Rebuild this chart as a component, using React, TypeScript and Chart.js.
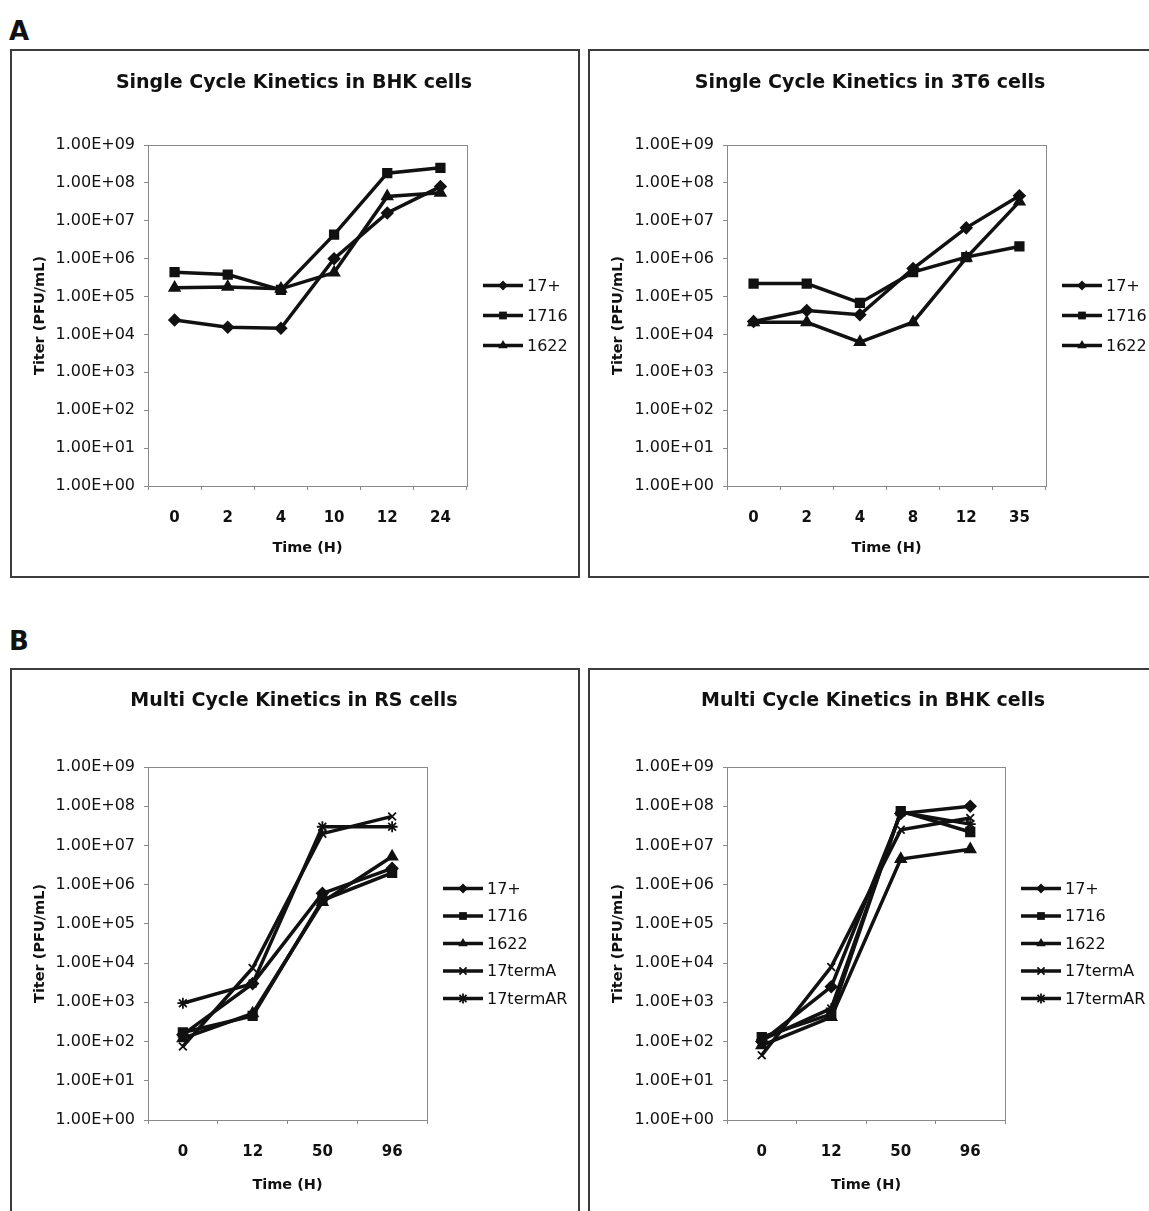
import React, { useEffect, useRef } from "react";
import { Chart, registerables } from "chart.js";

Chart.register(...registerables);

const FONT = "'DejaVu Sans', Verdana, sans-serif";

// ---------- data ----------
const seriesNames = ["17+", "1716", "1622", "17termA", "17termAR"];
const pointStyles = ["rectRot", "rect", "triangle", "crossRot", "star"];
const pointRadii = [5.5, 6, 6, 5.5, 5.5];

const yTickPowers = [0, 1, 2, 3, 4, 5, 6, 7, 8, 9];

// Panel A, left: Single Cycle Kinetics in BHK cells
const singleBhkTimes = ["0", "2", "4", "10", "12", "24"];
const singleBhk17 = [2.4e4, 1.55e4, 1.45e4, 1.0e6, 1.6e7, 8.0e7];
const singleBhk1716 = [4.4e5, 3.8e5, 1.5e5, 4.3e6, 1.8e8, 2.5e8];
const singleBhk1622 = [1.7e5, 1.8e5, 1.6e5, 4.3e5, 4.4e7, 5.5e7];

// Panel A, right: Single Cycle Kinetics in 3T6 cells
const single3t6Times = ["0", "2", "4", "8", "12", "35"];
const single3t617 = [2.2e4, 4.3e4, 3.3e4, 5.5e5, 6.5e6, 4.6e7];
const single3t61716 = [2.2e5, 2.2e5, 6.8e4, 4.4e5, 1.1e6, 2.1e6];
const single3t61622 = [2.1e4, 2.1e4, 6.3e3, 2.1e4, 1.05e6, 3.2e7];

// Panel B, left: Multi Cycle Kinetics in RS cells
const multiRsTimes = ["0", "12", "50", "96"];
const multiRs17 = [150, 3.0e3, 6.0e5, 2.6e6];
const multiRs1716 = [170, 450, 4.0e5, 2.0e6];
const multiRs1622 = [120, 520, 3.6e5, 5.2e6];
const multiRs17termA = [75, 7.5e3, 2.0e7, 5.5e7];
const multiRs17termAR = [950, 3.0e3, 3.0e7, 3.0e7];

// Panel B, right: Multi Cycle Kinetics in BHK cells
const multiBhkTimes = ["0", "12", "50", "96"];
const multiBhk17 = [100, 2.5e3, 6.5e7, 1.0e8];
const multiBhk1716 = [130, 500, 7.5e7, 2.2e7];
const multiBhk1622 = [80, 420, 4.5e6, 8.0e6];
const multiBhk17termA = [45, 8.0e3, 2.5e7, 5.0e7];
const multiBhk17termAR = [110, 700, 7.0e7, 3.5e7];

// ---------- layout ----------
type PanelDef = {
  title: string;
  box: [number, number, number, number]; // x, y, w, h (page)
  plot: [number, number, number, number]; // left, top, right, bottom (page)
  titleY: number;
  titleX: number;
  yTitleX: number;
  xTitleY: number;
  legendGap: number;
  labels: string[];
  series: number[][];
};

const panels: PanelDef[] = [
  {
    title: "Single Cycle Kinetics in BHK cells",
    box: [10, 49, 570, 529],
    plot: [148, 145, 467, 486],
    titleX: 294,
    titleY: 83,
    yTitleX: 40,
    xTitleY: 548,
    legendGap: 30,
    labels: singleBhkTimes,
    series: [singleBhk17, singleBhk1716, singleBhk1622],
  },
  {
    title: "Single Cycle Kinetics in 3T6 cells",
    box: [588, 49, 572, 529],
    plot: [727, 145, 1046, 486],
    titleX: 870,
    titleY: 83,
    yTitleX: 618,
    xTitleY: 548,
    legendGap: 30,
    labels: single3t6Times,
    series: [single3t617, single3t61716, single3t61622],
  },
  {
    title: "Multi Cycle Kinetics in RS cells",
    box: [10, 668, 570, 560],
    plot: [148, 767, 427, 1120],
    titleX: 294,
    titleY: 701,
    yTitleX: 40,
    xTitleY: 1185,
    legendGap: 27.5,
    labels: multiRsTimes,
    series: [multiRs17, multiRs1716, multiRs1622, multiRs17termA, multiRs17termAR],
  },
  {
    title: "Multi Cycle Kinetics in BHK cells",
    box: [588, 668, 572, 560],
    plot: [727, 767, 1005, 1120],
    titleX: 873,
    titleY: 701,
    yTitleX: 618,
    xTitleY: 1185,
    legendGap: 27.5,
    labels: multiBhkTimes,
    series: [multiBhk17, multiBhk1716, multiBhk1622, multiBhk17termA, multiBhk17termAR],
  },
];

function formatTick(v: number): string {
  const p = Math.round(Math.log10(v));
  return "1.00E+" + String(p).padStart(2, "0");
}

function drawMarker(ctx: CanvasRenderingContext2D, style: string, x: number, y: number, r: number) {
  ctx.save();
  ctx.fillStyle = "#111";
  ctx.strokeStyle = "#111";
  ctx.lineWidth = 1.8;
  ctx.beginPath();
  if (style === "rectRot") {
    ctx.moveTo(x, y - r);
    ctx.lineTo(x + r, y);
    ctx.lineTo(x, y + r);
    ctx.lineTo(x - r, y);
    ctx.closePath();
    ctx.fill();
  } else if (style === "rect") {
    const s = r * Math.SQRT1_2;
    ctx.rect(x - s, y - s, 2 * s, 2 * s);
    ctx.fill();
  } else if (style === "triangle") {
    for (let k = 0; k < 3; k++) {
      const a = -Math.PI / 2 + (k * 2 * Math.PI) / 3;
      const px = x + Math.cos(a) * r;
      const py = y + Math.sin(a) * r;
      if (k === 0) ctx.moveTo(px, py);
      else ctx.lineTo(px, py);
    }
    ctx.closePath();
    ctx.fill();
  } else if (style === "crossRot") {
    const s = r * Math.SQRT1_2;
    ctx.moveTo(x - s, y - s);
    ctx.lineTo(x + s, y + s);
    ctx.moveTo(x - s, y + s);
    ctx.lineTo(x + s, y - s);
    ctx.stroke();
  } else if (style === "star") {
    const s = r * Math.SQRT1_2;
    ctx.moveTo(x - s, y - s);
    ctx.lineTo(x + s, y + s);
    ctx.moveTo(x - s, y + s);
    ctx.lineTo(x + s, y - s);
    ctx.moveTo(x, y - r);
    ctx.lineTo(x, y + r);
    ctx.moveTo(x - r, y);
    ctx.lineTo(x + r, y);
    ctx.stroke();
  }
  ctx.restore();
}

function PanelChart({ p }: { p: PanelDef }) {
  const ref = useRef<HTMLCanvasElement | null>(null);
  useEffect(() => {
    const [bx, by, bw, bh] = p.box;
    const [pl, pt, pr, pb] = p.plot;
    const left = pl - bx;
    const top = pt - by;
    const right = pr - bx;
    const bottom = pb - by;
    const axisTitleSize = 14.5;
    const titleLH = axisTitleSize * 1.2;

    const framePlugin = {
      id: "frame" + p.title,
      beforeDatasetsDraw(chart: any) {
        const { ctx, chartArea } = chart;
        ctx.save();
        ctx.strokeStyle = "#8a8a8a";
        ctx.lineWidth = 1;
        ctx.strokeRect(
          Math.round(chartArea.left) + 0.5,
          Math.round(chartArea.top) + 0.5,
          Math.round(chartArea.right - chartArea.left),
          Math.round(chartArea.bottom - chartArea.top)
        );
        ctx.restore();
      },
      afterDraw(chart: any) {
        const { ctx, chartArea } = chart;
        ctx.save();
        // title
        ctx.fillStyle = "#111";
        ctx.font = "bold 19px " + FONT;
        ctx.textAlign = "center";
        ctx.textBaseline = "middle";
        ctx.fillText(p.title, p.titleX - bx, p.titleY - by);
        // legend
        const n = p.series.length;
        const cy = (chartArea.top + chartArea.bottom) / 2;
        const x0 = chartArea.right + 16;
        ctx.font = "16px " + FONT;
        ctx.textAlign = "left";
        for (let i = 0; i < n; i++) {
          const y = cy + (i - (n - 1) / 2) * p.legendGap;
          ctx.strokeStyle = "#111";
          ctx.lineWidth = 3.5;
          ctx.beginPath();
          ctx.moveTo(x0, y);
          ctx.lineTo(x0 + 40, y);
          ctx.stroke();
          drawMarker(ctx, pointStyles[i], x0 + 20, y, pointRadii[i] - 0.5);
          ctx.fillStyle = "#111";
          ctx.fillText(seriesNames[i], x0 + 44, y + 1);
        }
        ctx.restore();
      },
    };

    const chart = new Chart(ref.current as HTMLCanvasElement, {
      type: "line",
      data: {
        labels: p.labels,
        datasets: p.series.map((d, i) => ({
          label: seriesNames[i],
          data: d,
          borderColor: "#111",
          backgroundColor: "#111",
          borderWidth: 3.5,
          pointStyle: pointStyles[i] as any,
          pointRadius: pointRadii[i],
          pointBorderWidth: 1.8,
          pointBorderColor: "#111",
          pointBackgroundColor: "#111",
          tension: 0,
        })),
      },
      options: {
        responsive: false,
        animation: false,
        devicePixelRatio: 1,
        events: [],
        layout: { padding: { left: 0, top: top, right: bw - right, bottom: 0 } },
        plugins: {
          legend: { display: false },
          title: { display: false },
          tooltip: { enabled: false },
        },
        scales: {
          x: {
            type: "category",
            offset: true,
            grid: {
              offset: true,
              drawOnChartArea: false,
              drawTicks: true,
              tickLength: 4,
              color: "#8a8a8a",
            },
            border: { display: false },
            ticks: {
              font: { family: FONT, size: 15, weight: "bold" },
              color: "#111",
              padding: 19,
              maxRotation: 0,
              autoSkip: false,
            },
            title: {
              display: true,
              text: "Time (H)",
              font: { family: FONT, size: axisTitleSize, weight: "bold" },
              color: "#111",
              padding: { top: 0, bottom: by + bh - p.xTitleY - titleLH / 2 },
            },
            afterFit: (s: any) => {
              s.height = bh - bottom;
            },
          },
          y: {
            type: "logarithmic",
            min: 1,
            max: 1e9,
            grid: {
              drawOnChartArea: false,
              drawTicks: true,
              tickLength: 4,
              color: "#8a8a8a",
            },
            border: { display: false },
            afterBuildTicks: (s: any) => {
              s.ticks = yTickPowers.map((k) => ({ value: Math.pow(10, k) }));
            },
            ticks: {
              font: { family: FONT, size: 16 },
              color: "#111",
              padding: 9,
              autoSkip: false,
              callback: (v: any) => formatTick(Number(v)),
            },
            title: {
              display: true,
              text: "Titer (PFU/mL)",
              font: { family: FONT, size: axisTitleSize, weight: "bold" },
              color: "#111",
              padding: { top: p.yTitleX - bx - titleLH / 2, bottom: 0 },
            },
            afterFit: (s: any) => {
              s.width = left;
            },
          },
        },
      } as any,
      plugins: [framePlugin],
    });
    return () => chart.destroy();
  }, []);

  const [bx, by, bw, bh] = p.box;
  return (
    <>
      <div
        style={{
          position: "absolute",
          left: bx,
          top: by,
          width: bw,
          height: bh,
          boxSizing: "border-box",
          border: "2px solid #3c3c3c",
        }}
      />
      <canvas
        ref={ref}
        width={bw}
        height={bh}
        style={{ position: "absolute", left: bx, top: by, width: bw, height: bh }}
      />
    </>
  );
}

export default function App() {
  const letterStyle: React.CSSProperties = {
    position: "absolute",
    left: 9,
    fontFamily: FONT,
    fontWeight: "bold",
    fontSize: 26,
    lineHeight: "26px",
    color: "#111",
  };
  return (
    <div
      style={{
        position: "absolute",
        left: 0,
        top: 0,
        width: 1149,
        height: 1211,
        overflow: "hidden",
        background: "#fff",
      }}
    >
      <div style={{ ...letterStyle, top: 18 }}>A</div>
      <div style={{ ...letterStyle, top: 628 }}>B</div>
      {panels.map((p) => (
        <PanelChart key={p.title} p={p} />
      ))}
    </div>
  );
}
